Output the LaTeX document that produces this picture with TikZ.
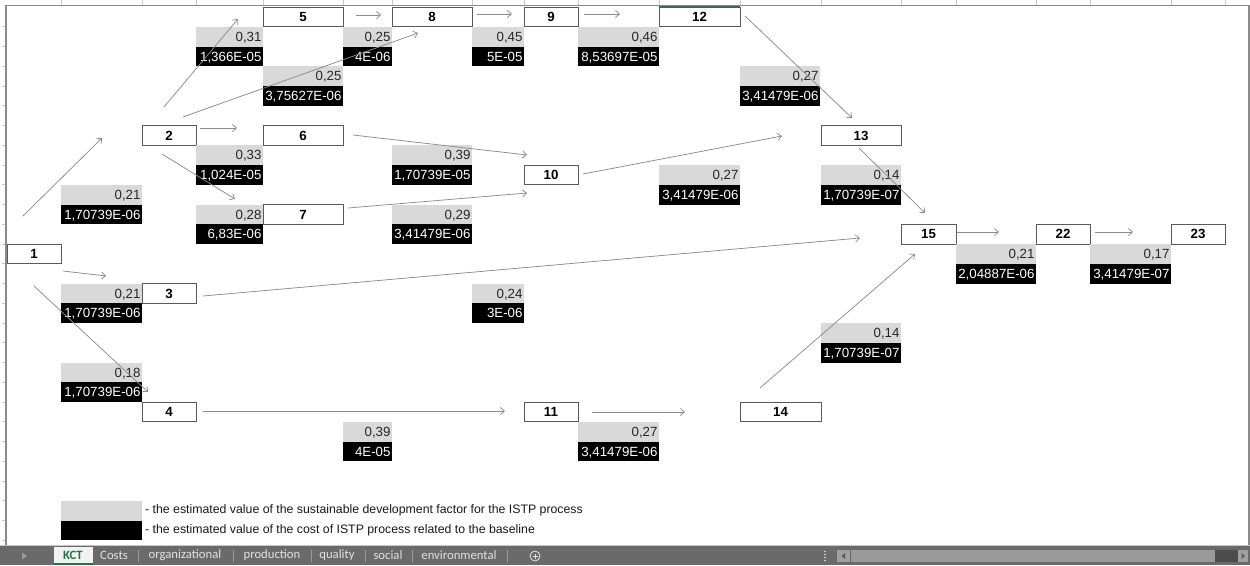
\documentclass[tikz,border=0pt]{standalone}
\usepackage{fontspec}
\setmainfont{Liberation Sans}
\newfontfamily\tabfont{Carlito}
\usetikzlibrary{arrows.meta}
\definecolor{cellgray}{HTML}{D9D9D9}
\definecolor{boxline}{HTML}{5A5A5A}
\definecolor{arrowgray}{HTML}{8C8C8C}
\definecolor{xlgreen}{HTML}{217346}
\definecolor{barbg}{HTML}{6A6A6A}
\definecolor{frameline}{HTML}{8A8A8A}
\definecolor{tickgray}{HTML}{C8C8C8}
\definecolor{tabtext}{HTML}{E2E2E2}
\definecolor{tabsep}{HTML}{9A9A9A}
\definecolor{scrollbtn}{HTML}{A0A0A0}
\definecolor{scrollthumb}{HTML}{9A9A9A}
\tikzset{
  cellbase/.style={inner xsep=1.5pt, inner ysep=0pt, minimum height=19.75pt,
    text height=9.6pt, text depth=0pt, outer sep=0pt, font=\fontsize{13.3}{14}\selectfont},
  procbox/.style={cellbase, draw=boxline, line width=0.7pt, fill=white,
    font=\fontsize{13.3}{14}\selectfont\bfseries, align=center},
  sdfcell/.style={cellbase, fill=cellgray, text=black!85},
  costcell/.style={cellbase, fill=black, text=white},
  flow/.style={draw=arrowgray, line width=0.75pt, -{Straight Barb[length=4pt,width=7pt]}},
  legtext/.style={inner sep=0pt, anchor=west, font=\fontsize{12.3}{13}\selectfont, text=black!90},
  tablabel/.style={inner sep=0pt, text=tabtext, font=\tabfont\fontsize{12.7}{13}\selectfont},
}
\newcommand\procnode[5]{% name, xl, xr, row, text
  \pgfmathsetmacro\mycw{#3-#2}\pgfmathsetmacro\mycy{7+19.75*#4}%
  \node[procbox, minimum width=\mycw pt, anchor=north west] (#1) at (#2,\mycy) {#5};}
\newcommand\valpair[6]{% name, xl, xr, row, sdf, cost
  \pgfmathsetmacro\mycw{#3-#2-3}\pgfmathsetmacro\mycy{7+19.75*#4}\pgfmathsetmacro\mycyb{7+19.75*(#4+1)}%
  \node[sdfcell, anchor=north west] (#1s) at (#2,\mycy) {\makebox[\mycw pt][r]{#5}};
  \node[costcell, anchor=north west] (#1c) at (#2,\mycyb) {\makebox[\mycw pt][r]{#6}};}
\begin{document}
\begin{tikzpicture}[x=1pt,y=-1pt]
\useasboundingbox (0,0) rectangle (1250,565);
\fill[white] (0,0) rectangle (1250,565);
% frame ticks (headers)
\foreach \xx in {61,142,196,263,343,392,472,524,578,659,740,821,901,956,1036,1090,1171,1225}
  \draw[tickgray, line width=0.6pt] (\xx,0) -- (\xx,5);
\foreach \rr in {1,...,27}
  \draw[tickgray, line width=0.6pt] (2,{7+19.75*\rr}) -- (6,{7+19.75*\rr});
\draw[frameline, line width=1.5pt] (6,545) -- (6,5.5) -- (1249,5.5) -- (1249,545);
% process boxes
\procnode{n1}{7}{61}{12}{1}
\procnode{n2}{142}{196}{6}{2}
\procnode{n3}{142}{196}{14}{3}
\procnode{n4}{142}{196}{20}{4}
\procnode{n5}{263}{343}{0}{5}
\procnode{n6}{263}{343}{6}{6}
\procnode{n7}{263}{343}{10}{7}
\procnode{n8}{392}{472}{0}{8}
\procnode{n9}{524}{578}{0}{9}
\procnode{n10}{524}{578}{8}{10}
\procnode{n11}{524}{578}{20}{11}
\procnode{n12}{659}{740}{0}{12}
\procnode{n13}{821}{901}{6}{13}
\procnode{n14}{740}{821}{20}{14}
\procnode{n15}{901}{956}{11}{15}
\procnode{n22}{1036}{1090}{11}{22}
\procnode{n23}{1171}{1225}{11}{23}
\draw[xlgreen, line width=1.2pt] (659,6.2) -- (740,6.2);
% value pairs
\valpair{v12}{61}{142}{9}{0,21}{1,70739E-06}
\valpair{v25}{196}{263}{1}{0,31}{1,366E-05}
\valpair{v58}{343}{392}{1}{0,25}{4E-06}
\valpair{v28}{263}{343}{3}{0,25}{3,75627E-06}
\valpair{v89}{472}{524}{1}{0,45}{5E-05}
\valpair{v912}{578}{659}{1}{0,46}{8,53697E-05}
\valpair{v1213}{740}{820}{3}{0,27}{3,41479E-06}
\valpair{v26}{196}{263}{7}{0,33}{1,024E-05}
\valpair{v610}{392}{472}{7}{0,39}{1,70739E-05}
\valpair{v27}{196}{263}{10}{0,28}{6,83E-06}
\valpair{v710}{392}{472}{10}{0,29}{3,41479E-06}
\valpair{v1013}{659}{740}{8}{0,27}{3,41479E-06}
\valpair{v1315}{821}{901}{8}{0,14}{1,70739E-07}
\valpair{v1522}{956}{1036}{12}{0,21}{2,04887E-06}
\valpair{v2223}{1090}{1171}{12}{0,17}{3,41479E-07}
\valpair{v13}{61}{142}{14}{0,21}{1,70739E-06}
\valpair{v14}{61}{142}{18}{0,18}{1,70739E-06}
\valpair{v315}{472}{524}{14}{0,24}{3E-06}
\valpair{v1415}{821}{901}{16}{0,14}{1,70739E-07}
\valpair{v1114}{578}{659}{21}{0,27}{3,41479E-06}
\valpair{v411}{343}{392}{21}{0,39}{4E-05}
% connector end points
\coordinate (e12s) at (23,216);   \coordinate (e12t) at (102,138);
\coordinate (e25s) at (164,107);  \coordinate (e25t) at (238,19);
\coordinate (e28s) at (183,117);  \coordinate (e28t) at (418,33);
\coordinate (e26s) at (200,128);  \coordinate (e26t) at (237,128);
\coordinate (e27s) at (162,154);  \coordinate (e27t) at (235,199);
\coordinate (e58s) at (356,15);   \coordinate (e58t) at (381,15);
\coordinate (e610s) at (353,135); \coordinate (e610t) at (527,155);
\coordinate (e710s) at (348,208); \coordinate (e710t) at (527,193);
\coordinate (e89s) at (477,14);   \coordinate (e89t) at (512,14);
\coordinate (e912s) at (584,14);  \coordinate (e912t) at (620,14);
\coordinate (e1213s) at (745,16); \coordinate (e1213t) at (852,118);
\coordinate (e1013s) at (583,174);\coordinate (e1013t) at (782,136);
\coordinate (e1315s) at (859,148);\coordinate (e1315t) at (925,213);
\coordinate (e315s) at (203,296); \coordinate (e315t) at (860,238);
\coordinate (e1415s) at (760,388);\coordinate (e1415t) at (915,254);
\coordinate (e1522s) at (957,232);\coordinate (e1522t) at (999,232);
\coordinate (e2223s) at (1095,232);\coordinate (e2223t) at (1133,232);
\coordinate (e13s) at (63,271);   \coordinate (e13t) at (106,276);
\coordinate (e14s) at (34,286);   \coordinate (e14t) at (148,392);
\coordinate (e411s) at (203,411); \coordinate (e411t) at (505,411);
\coordinate (e1114s) at (592,412);\coordinate (e1114t) at (685,412);
\foreach \ee in {12,25,28,26,27,58,610,710,89,912,1213,1013,1315,315,1415,1522,2223,13,14,411,1114}
  \draw[flow] (e\ee s) -- (e\ee t);
% legend
\fill[cellgray] (61,500.75) rectangle (142,520.5);
\fill[black] (61,520.5) rectangle (142,540.25);
\node[legtext] (leg1) at (145,510.6) {- the estimated value of the sustainable development factor for the ISTP process};
\node[legtext] (leg2) at (145,530.4) {- the estimated value of the cost of ISTP process related to the baseline};
% sheet tab bar
\fill[barbg] (0,546) rectangle (1250,565);
\draw[tickgray, line width=0.8pt] (0,545.8) -- (1250,545.8);
\fill[tabsep] (22,552.5) -- (27,556) -- (22,559.5) -- cycle;
\fill[white!95!black] (54,546.5) rectangle (93,564);
\fill[xlgreen] (54,562.5) rectangle (93,564.5);
\node[inner sep=0pt, text=xlgreen, font=\tabfont\fontsize{12.7}{13}\selectfont\bfseries] (tabkct) at (73,555.5) {KCT};
\node[tablabel] (tab2) at (114,555.5) {Costs};
\node[tablabel] (tab3) at (185,555.5) {organizational};
\node[tablabel] (tab4) at (272,555.5) {production};
\node[tablabel] (tab5) at (337,555.5) {quality};
\node[tablabel] (tab6) at (388,555.5) {social};
\node[tablabel] (tab7) at (459,555.5) {environmental};
\foreach \xx in {138,233,311,365,412,507}
  \draw[tabsep, line width=0.6pt] (\xx,549.5) -- (\xx,561.5);
\draw[tabtext, line width=0.8pt] (535,556) circle (5);
\draw[tabtext, line width=0.7pt] (532.5,556) -- (537.5,556) (535,553.5) -- (535,558.5);
\foreach \yy in {551.5,554.5,557.5,560.5}
  \fill[tabtext] (825,\yy) circle (0.9);
\fill[scrollbtn] (837,550) rectangle (850,562);
\fill[black!65] (841.5,556) -- (845,553) -- (845,559) -- cycle;
\fill[black!60] (850,550) rectangle (851,562);
\fill[scrollthumb] (851,550) rectangle (1215,562);
\fill[black!70] (1215,550) rectangle (1238,562);
\fill[scrollbtn] (1238,550) rectangle (1248,562);
\fill[black!65] (1245,556) -- (1241.5,553) -- (1241.5,559) -- cycle;
\end{tikzpicture}
\end{document}
